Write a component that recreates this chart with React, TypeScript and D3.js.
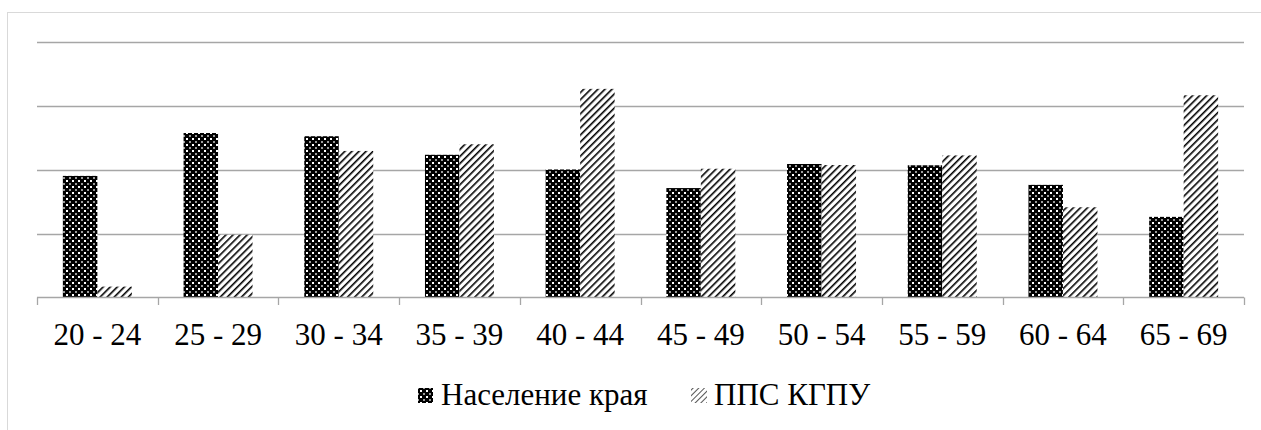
import React from "react";
import * as d3 from "d3";

const categories = ["20 - 24", "25 - 29", "30 - 34", "35 - 39", "40 - 44", "45 - 49", "50 - 54", "55 - 59", "60 - 64", "65 - 69"];
const populationValues = [9.5, 12.85, 12.6, 11.15, 10.0, 8.55, 10.43, 10.33, 8.8, 6.3];
const staffValues = [0.85, 4.9, 11.45, 11.97, 16.3, 10.06, 10.35, 11.1, 7.05, 15.8];
const seriesNames = ["Население края", "ППС КГПУ"];
const gridTicks = [5, 10, 15, 20];

const W = 1261;
const H = 430;
const FONT = "Liberation Serif, Times New Roman, serif";

export default function App() {
  const x = d3.scaleBand<string>().domain(categories).range([37, 1244]).padding(0);
  const y = d3.scaleLinear().domain([0, 20]).range([297.5, 41.5]);
  const bw = x.bandwidth();
  const groupW = bw / 1.75;
  const inner = d3.scaleBand<number>().domain([0, 1]).range([0, groupW]).padding(0);
  const fills = ["url(#dots)", "url(#hatch)"];
  const series = [populationValues, staffValues];
  const boundaries = d3.range(categories.length + 1).map((i) => 37 + i * bw);

  return (
    <svg width={W} height={H} style={{ position: "absolute", left: 0, top: 0, display: "block", background: "#fff" }}>
      <defs>
        <pattern id="dots" width={6} height={6} patternUnits="userSpaceOnUse">
          <rect width={6} height={6} fill="#000" />
          <rect x={0} y={0} width={2} height={2} fill="#fff" />
          <rect x={3} y={3} width={2} height={2} fill="#9a9a9a" />
        </pattern>
        <pattern id="hatch" width={5} height={5} patternUnits="userSpaceOnUse" patternTransform="rotate(45)">
          <rect width={5} height={5} fill="#fff" />
          <line x1={0} y1={0} x2={0} y2={5} stroke="#000" strokeWidth={3.2} />
        </pattern>
        <pattern id="hatchSmall" width={4} height={4} patternUnits="userSpaceOnUse" patternTransform="rotate(45)">
          <rect width={4} height={4} fill="#fff" />
          <line x1={0} y1={0} x2={0} y2={4} stroke="#555" strokeWidth={2} />
        </pattern>
      </defs>
      <rect x={7.5} y={12.5} width={1400} height={600} fill="none" stroke="#d9d9d9" strokeWidth={1} />
      {gridTicks.map((t) => (
        <line key={t} x1={37} x2={1244} y1={Math.round(y(t)) + 0.5} y2={Math.round(y(t)) + 0.5} stroke="#a6a6a6" strokeWidth={1.3} />
      ))}
      {series.map((vals, s) =>
        vals.map((v, i) => {
          const x0 = (x(categories[i]) as number) + (bw - groupW) / 2 + (inner(s) as number);
          return <rect key={`${s}-${i}`} x={x0} y={y(v)} width={inner.bandwidth()} height={y(0) - y(v)} fill={fills[s]} />;
        })
      )}
      <line x1={37} x2={1244} y1={297.5} y2={297.5} stroke="#a6a6a6" strokeWidth={1.3} />
      {boundaries.map((bx, i) => (
        <line key={i} x1={Math.round(bx) + 0.5} x2={Math.round(bx) + 0.5} y1={297.5} y2={305} stroke="#a6a6a6" strokeWidth={1.3} />
      ))}
      {categories.map((c) => (
        <text key={c} x={(x(c) as number) + bw / 2} y={345} textAnchor="middle" fontFamily={FONT} fontSize={31} fill="#000">
          {c}
        </text>
      ))}
      <g>
        <rect x={418} y={388} width={15} height={15} fill="url(#dots)" />
        <text x={441} y={405} fontFamily={FONT} fontSize={31} fill="#000">{seriesNames[0]}</text>
        <rect x={691} y={388} width={16} height={15} fill="url(#hatchSmall)" />
        <text x={714} y={405} fontFamily={FONT} fontSize={31} fill="#000">{seriesNames[1]}</text>
      </g>
    </svg>
  );
}
